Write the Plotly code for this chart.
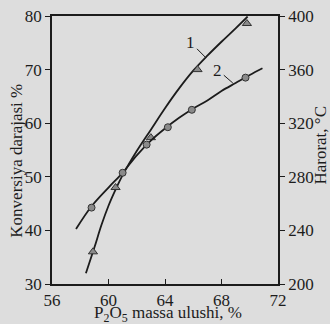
import plotly.graph_objects as go

# Egri chiziq 1 (konversiya darajasi, %) - chiziq nuqtalari va o'lchangan nuqtalar
curve1_x = [58.4, 59.0, 59.5, 60.0, 60.5, 61.0, 62.0, 63.0, 64.0, 65.0, 66.0, 67.0, 68.0, 69.0, 69.85]
curve1_y = [32.0, 36.8, 41.0, 44.6, 47.6, 50.3, 54.8, 58.8, 62.8, 66.5, 69.8, 72.6, 75.2, 77.7, 79.9]
points1_x = [58.9, 60.5, 63.0, 66.3, 69.8]
points1_y = [36.0, 48.0, 57.3, 70.0, 78.6]

# Egri chiziq 2 (harorat, °C)
curve2_x = [57.7, 58.8, 60.0, 61.0, 62.0, 63.0, 64.0, 65.0, 66.0, 67.0, 68.0, 69.0, 70.0, 70.9]
curve2_y = [241, 258, 272, 283, 296, 307, 316, 324, 331, 337, 344, 350, 356, 361]
points2_x = [58.8, 61.0, 62.7, 64.2, 65.9, 69.7]
points2_y = [257, 283, 304, 317, 330, 354]

x_ticks = [56, 60, 64, 68, 72]
y_ticks = [30, 40, 50, 60, 70, 80]
y2_ticks = [200, 240, 280, 320, 360, 400]

BG = "#dddddd"
INK = "#1c1c1c"
FONT = "Liberation Serif, Times New Roman, serif"
FS = 17

fig = go.Figure()
fig.add_trace(go.Scatter(x=curve1_x, y=curve1_y, mode="lines",
                         line=dict(color=INK, width=1.8, shape="spline")))
fig.add_trace(go.Scatter(x=points1_x, y=points1_y, mode="markers",
                         marker=dict(symbol="triangle-up", size=8, color="#8a8a8a",
                                     line=dict(color="#333", width=1))))
fig.add_trace(go.Scatter(x=curve2_x, y=curve2_y, mode="lines", yaxis="y2",
                         line=dict(color=INK, width=1.8, shape="spline")))
fig.add_trace(go.Scatter(x=points2_x, y=points2_y, mode="markers", yaxis="y2",
                         marker=dict(symbol="circle", size=7, color="#8a8a8a",
                                     line=dict(color="#333", width=1))))

# egri chiziq raqamlari
fig.add_annotation(x=66.9, y=72.2, text="1", showarrow=True, arrowhead=0,
                   arrowwidth=1, arrowcolor=INK, ax=-15, ay=-15,
                   font=dict(size=FS, color=INK, family=FONT))
fig.add_annotation(x=68.8, y=350, yref="y2", text="2", showarrow=True, arrowhead=0,
                   arrowwidth=1, arrowcolor=INK, ax=-15, ay=-13,
                   font=dict(size=FS, color=INK, family=FONT))

# o'q sarlavhalari
title_font = dict(size=FS, color=INK, family=FONT)
fig.add_annotation(xref="paper", yref="paper", x=-0.155, y=0.46, text="Konversiya darajasi %",
                   textangle=-90, showarrow=False, xanchor="center", yanchor="middle",
                   font=title_font)
fig.add_annotation(xref="paper", yref="paper", x=1.19, y=0.52, text="Harorat, °C",
                   textangle=-90, showarrow=False, xanchor="center", yanchor="middle",
                   font=title_font)
fig.add_annotation(xref="paper", yref="paper", x=0.513, y=-0.112,
                   text="P<sub>2</sub>O<sub>5</sub> massa ulushi, %",
                   showarrow=False, xanchor="center", yanchor="middle", font=title_font)

tick_font = dict(size=FS, color=INK, family=FONT)
fig.update_layout(
    width=330, height=324,
    margin=dict(l=52, r=52, t=16, b=40),
    paper_bgcolor=BG, plot_bgcolor=BG,
    showlegend=False,
    font=dict(family=FONT, color=INK),
    xaxis=dict(range=[56, 72], tickvals=x_ticks, showgrid=False, zeroline=False,
               showline=True, mirror=True, linecolor=INK, linewidth=1.5,
               ticks="inside", ticklen=5, tickcolor=INK, tickfont=tick_font,
               automargin=False),
    yaxis=dict(range=[30, 80], tickvals=y_ticks, showgrid=False, zeroline=False,
               showline=True, linecolor=INK, linewidth=1.5,
               ticks="outside", ticklen=5, tickcolor=INK, tickfont=tick_font,
               automargin=False),
    yaxis2=dict(range=[200, 400], tickvals=y2_ticks, overlaying="y", side="right",
                showgrid=False, zeroline=False, showline=True, linecolor=INK, linewidth=1.5,
                ticks="outside", ticklen=5, tickcolor=INK, tickfont=tick_font,
                automargin=False),
)

# sahifa chetidagi 8px bo'shliqni olib tashlash
fig.write_html("out.html", config={"displayModeBar": False},
               post_script="document.body.style.margin='0';"
                           "document.body.style.background='#dddddd';")
